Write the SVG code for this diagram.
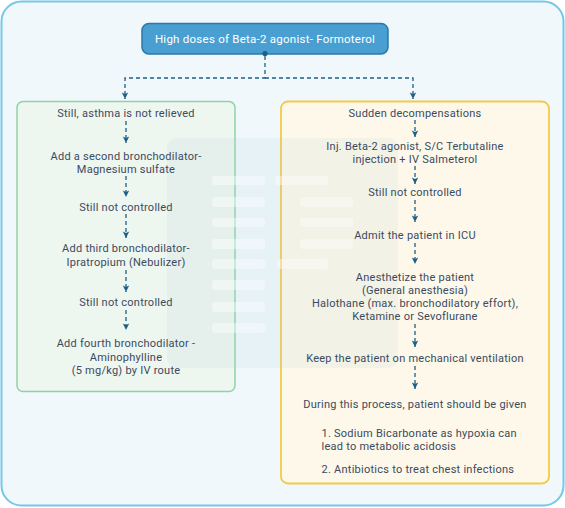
<svg xmlns="http://www.w3.org/2000/svg" width="565" height="508" viewBox="0 0 565 508">
<defs>
<style>
.t{font-family:Roboto,"Liberation Sans",sans-serif;font-size:11px;letter-spacing:0.25px;fill:#3b4a5e;text-anchor:middle}
.l{text-anchor:start}
.c{fill:none;stroke:#1d5f86;stroke-width:1.3;stroke-dasharray:4 3}
.bar{fill:#ffffff;opacity:0.4}
</style>
<marker id="ar" markerUnits="userSpaceOnUse" markerWidth="8" markerHeight="8" viewBox="0 0 8 8" refX="7" refY="4" orient="auto">
<path d="M0.5 0.8 L7 4 L0.5 7.2 L2 4 Z" fill="#1d5f86"/>
</marker>
</defs>
<rect x="1.5" y="1.5" width="562" height="504" rx="20" fill="#f0f8fc" stroke="#74c8ea" stroke-width="2"/>

<g id="left">
<rect x="17" y="101.5" width="218" height="290" rx="6" fill="#eef6f0" stroke="#8ed3a6" stroke-width="1.5"/>
</g>
<g id="right">
<rect x="281" y="101.5" width="268" height="382" rx="7" fill="#fdf8ea" stroke="#f3c94a" stroke-width="1.8"/>
</g>

<g id="watermark">
<rect x="167" y="138" width="231" height="230" rx="10" fill="#a9c6d6" opacity="0.13"/>
<rect class="bar" x="212" y="176" width="53" height="9" rx="3"/>
<rect class="bar" x="275" y="176" width="53" height="9" rx="3"/>
<rect class="bar" x="212" y="197" width="53" height="10" rx="3"/>
<rect class="bar" x="300" y="197" width="53" height="10" rx="3"/>
<rect class="bar" x="212" y="218" width="53" height="9" rx="3"/>
<rect class="bar" x="300" y="218" width="53" height="9" rx="3"/>
<rect class="bar" x="212" y="239" width="53" height="10" rx="3"/>
<rect class="bar" x="300" y="239" width="53" height="10" rx="3"/>
<rect class="bar" x="212" y="259" width="53" height="10" rx="3"/>
<rect class="bar" x="277" y="259" width="51" height="10" rx="3"/>
<rect class="bar" x="212" y="280" width="53" height="10" rx="3"/>
<rect class="bar" x="212" y="302" width="53" height="10" rx="3"/>
<rect class="bar" x="212" y="323" width="53" height="10" rx="3"/>
</g>

<g id="title">
<rect x="142" y="23.5" width="246" height="30.5" rx="7" fill="#4a9fd2" stroke="#2c78aa" stroke-width="1.5"/>
<text class="t" x="265" y="42.5" style="fill:#ffffff;font-size:11.5px">High doses of Beta-2 agonist- Formoterol</text>
</g>

<g id="connectors">
<circle cx="265" cy="53.5" r="2.6" fill="#1d5f86"/>
<path class="c" d="M265 56 V78 H125 V99" marker-end="url(#ar)"/>
<path class="c" d="M265 78 H413 V99" marker-end="url(#ar)"/>
<path class="c" d="M126 121 V143" marker-end="url(#ar)"/>
<path class="c" d="M126 176 V197" marker-end="url(#ar)"/>
<path class="c" d="M126 214 V238" marker-end="url(#ar)"/>
<path class="c" d="M126 270 V292" marker-end="url(#ar)"/>
<path class="c" d="M126 310 V330" marker-end="url(#ar)"/>
<path class="c" d="M415 120 V137" marker-end="url(#ar)"/>
<path class="c" d="M415 166 V184" marker-end="url(#ar)"/>
<path class="c" d="M415 200 V222" marker-end="url(#ar)"/>
<path class="c" d="M415 243 V264" marker-end="url(#ar)"/>
<path class="c" d="M415 324 V347" marker-end="url(#ar)"/>
<path class="c" d="M415 366 V389" marker-end="url(#ar)"/>
</g>

<g id="l1"><text class="t" x="126" y="116.5">Still, asthma is not relieved</text></g>
<g id="l2"><text class="t" x="126" y="159.5">Add a second bronchodilator-</text><text class="t" x="126" y="172.5">Magnesium sulfate</text></g>
<g id="l3"><text class="t" x="126" y="210.5">Still not controlled</text></g>
<g id="l4"><text class="t" x="126" y="252">Add third bronchodilator-</text><text class="t" x="126" y="265.5">Ipratropium (Nebulizer)</text></g>
<g id="l5"><text class="t" x="126" y="305.5">Still not controlled</text></g>
<g id="l6"><text class="t" x="126" y="347">Add fourth bronchodilator -</text><text class="t" x="126" y="360.5">Aminophylline</text><text class="t" x="126" y="374">(5 mg/kg) by IV route</text></g>

<g id="r1"><text class="t" x="415" y="117">Sudden decompensations</text></g>
<g id="r2"><text class="t" x="415" y="149.5">Inj. Beta-2 agonist, S/C Terbutaline</text><text class="t" x="415" y="162.5">injection + IV Salmeterol</text></g>
<g id="r3"><text class="t" x="415" y="196">Still not controlled</text></g>
<g id="r4"><text class="t" x="415" y="239">Admit the patient in ICU</text></g>
<g id="r5"><text class="t" x="415" y="280.5">Anesthetize the patient</text><text class="t" x="415" y="293.5">(General anesthesia)</text><text class="t" x="415" y="307">Halothane (max. bronchodilatory effort),</text><text class="t" x="415" y="320">Ketamine or Sevoflurane</text></g>
<g id="r6"><text class="t" x="415" y="362">Keep the patient on mechanical ventilation</text></g>
<g id="r7"><text class="t" x="415" y="408">During this process, patient should be given</text>
<text class="t l" x="321.5" y="436.5">1. Sodium Bicarbonate as hypoxia can</text>
<text class="t l" x="321.5" y="449.5">lead to metabolic acidosis</text>
<text class="t l" x="321.5" y="473">2. Antibiotics to treat chest infections</text></g>
</svg>
